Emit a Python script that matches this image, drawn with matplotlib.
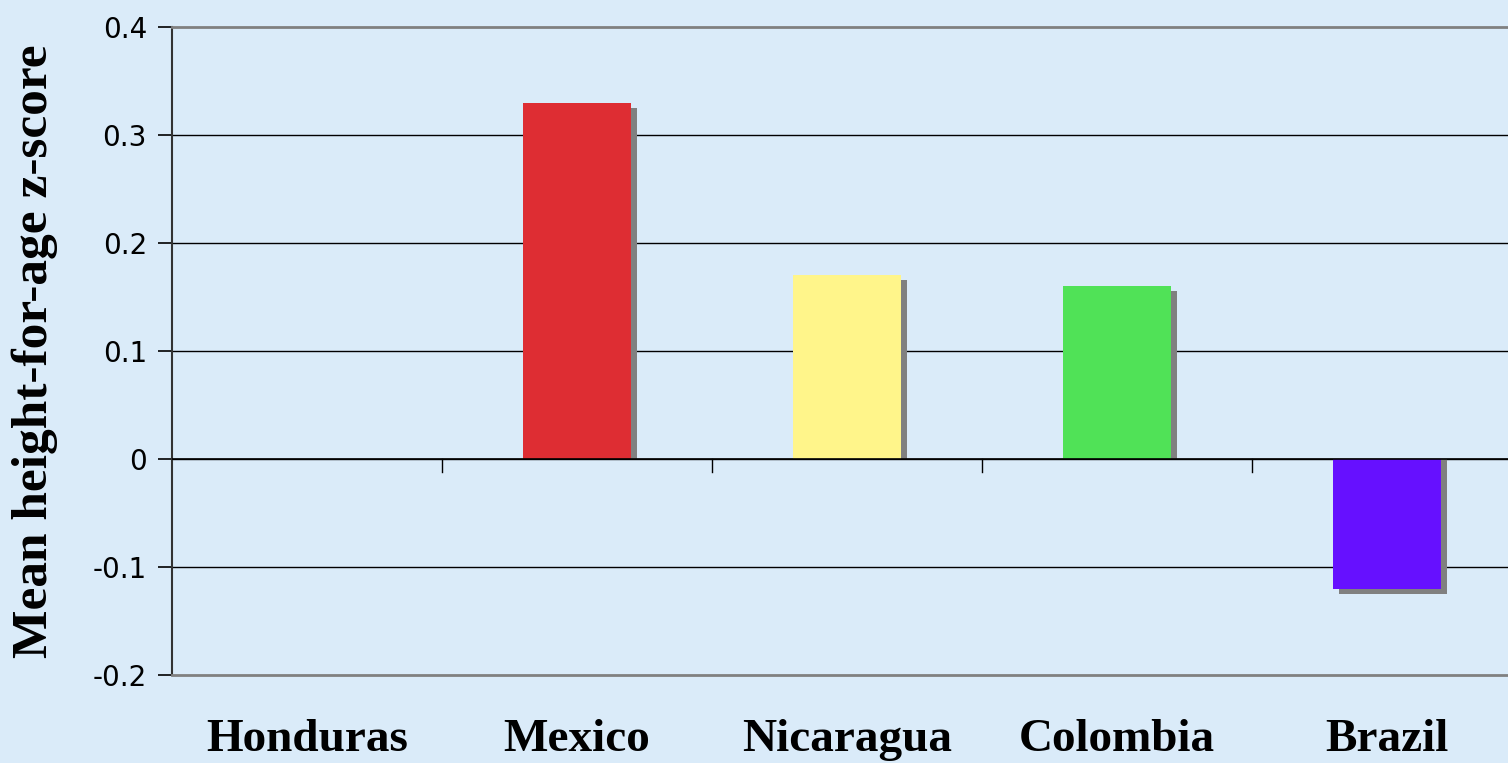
import matplotlib
matplotlib.use("Agg")
import matplotlib.pyplot as plt
import numpy as np

categories = ["Honduras", "Mexico", "Nicaragua", "Colombia", "Brazil"]
values = [0.0, 0.33, 0.17, 0.16, -0.12]
colors = ["#4F6CD8", "#DE2D33", "#FFF58A", "#50E257", "#6610FF"]
yticks = [-0.2, -0.1, 0, 0.1, 0.2, 0.3, 0.4]
ytick_labels = ["-0.2", "-0.1", "0", "0.1", "0.2", "0.3", "0.4"]

W, H = 1508, 763
bg = "#DAEBF9"
fig = plt.figure(figsize=(W / 100, H / 100), dpi=100, facecolor=bg)
left, right = 172, 1522
bottom, top = 675, 27
ax = fig.add_axes([left / W, 1 - bottom / H, (right - left) / W, (bottom - top) / H])
ax.set_facecolor(bg)

x = np.arange(len(categories))
bw = 0.4
# shadow offsets in data units
dx = 6 / 270
dy = 5 / 1080
for xi, v, c in zip(x, values, colors):
    if v == 0:
        continue
    ax.bar(xi + dx, v - dy, bottom=0, width=bw, color="#808080", zorder=2, linewidth=0)
    ax.bar(xi, v, width=bw, color=c, zorder=3, linewidth=0)

ax.set_xlim(-0.5, len(categories) - 0.5)
ax.set_ylim(-0.2, 0.4)
ax.set_yticks(yticks)
ax.set_yticklabels(ytick_labels, family="DejaVu Sans", fontsize=20)
for yv in yticks[1:-1]:
    ax.axhline(yv, color="black", linewidth=1.0, zorder=1)
ax.axhline(0, color="black", linewidth=1.2, zorder=4)

ax.set_xticks([])
for b in x[:-1] + 0.5:
    ax.plot([b, b], [0, -13 / 1080], color="black", linewidth=1.0, zorder=4, clip_on=False)

ax.spines["right"].set_visible(False)
ax.spines["top"].set_color("#808080")
ax.spines["top"].set_linewidth(2)
ax.spines["bottom"].set_color("#808080")
ax.spines["bottom"].set_linewidth(2)
ax.spines["left"].set_color("#333333")
ax.spines["left"].set_linewidth(1.5)
ax.tick_params(axis="y", length=10, width=1.2, pad=8, colors="black")

for xi, name in zip(x, categories):
    ax.text(xi, -0.2 - 65 / 1080, name, ha="center", va="center",
            family="Liberation Serif", fontweight="bold", fontsize=34, clip_on=False)

fig.text(35 / W, 1 - 351 / H, "Mean height-for-age z-score", rotation=90,
         ha="center", va="center", family="Liberation Serif", fontweight="bold", fontsize=37)

fig.savefig("out.png", dpi=100, facecolor=bg)
